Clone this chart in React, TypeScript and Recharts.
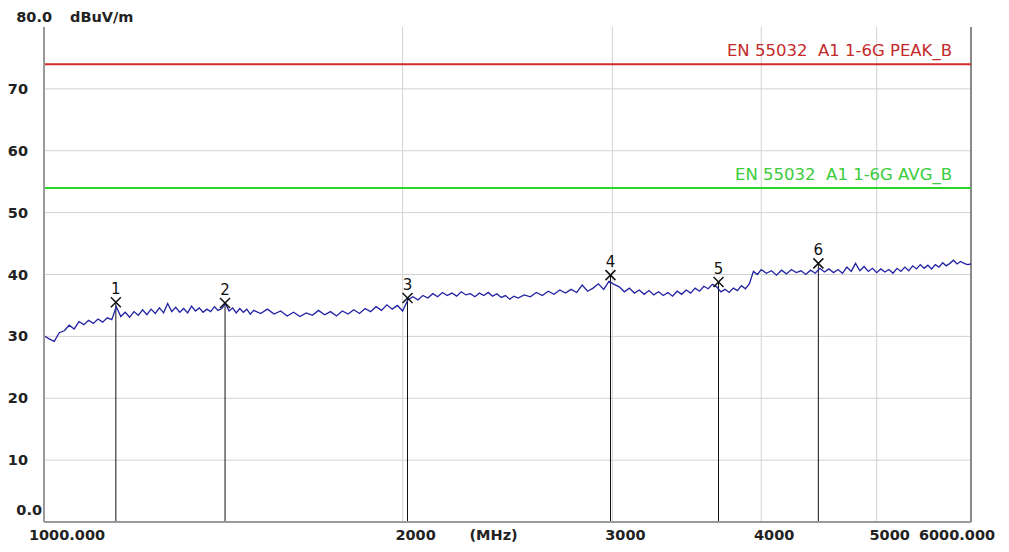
import {
  ComposedChart,
  Line,
  Scatter,
  XAxis,
  YAxis,
  ReferenceLine,
} from "recharts";

// measured trace, [MHz, dBuV/m]
const trace: [number, number][] = [
  [1000, 30.1], [1010, 29.6], [1020, 29.2], [1030, 30.6], [1040, 30.9], [1050, 31.8],
  [1060, 31.2], [1070, 32.4], [1080, 31.9], [1090, 32.6], [1100, 32.1], [1110, 32.8],
  [1120, 32.3], [1130, 33.0], [1140, 32.7], [1150, 34.8], [1160, 33.2], [1170, 33.9],
  [1180, 33.1], [1190, 34.0], [1200, 33.4], [1210, 34.3], [1220, 33.5], [1230, 34.4],
  [1240, 33.7], [1250, 34.6], [1260, 33.8], [1270, 35.3], [1280, 34.0], [1290, 34.7],
  [1300, 33.9], [1310, 34.5], [1320, 33.8], [1330, 34.9], [1340, 34.1], [1350, 34.6],
  [1360, 33.9], [1370, 34.4], [1380, 34.0], [1390, 34.8], [1400, 34.2], [1410, 34.5],
  [1420, 35.3], [1430, 34.1], [1440, 34.6], [1450, 33.8], [1460, 34.5], [1470, 33.9],
  [1480, 34.4], [1490, 33.6], [1500, 34.2],
  [1520, 33.7], [1540, 34.4], [1560, 33.6], [1580, 34.1], [1600, 33.3], [1620, 33.9],
  [1640, 33.2], [1660, 33.8], [1680, 33.4], [1700, 34.2], [1720, 33.5], [1740, 34.0],
  [1760, 33.3], [1780, 34.1], [1800, 33.6], [1820, 34.3], [1840, 33.7], [1860, 34.5],
  [1880, 34.0], [1900, 34.8], [1920, 34.2], [1940, 35.1], [1960, 34.4], [1980, 35.0],
  [2000, 34.1], [2020, 35.9], [2040, 36.4], [2060, 35.9], [2080, 36.6], [2100, 36.2],
  [2120, 36.9], [2140, 36.4], [2160, 37.1], [2180, 36.6], [2200, 37.0], [2220, 36.5],
  [2240, 37.2], [2260, 36.7], [2280, 36.9], [2300, 36.4], [2320, 37.0], [2340, 36.6],
  [2360, 37.1], [2380, 36.5], [2400, 36.9], [2420, 36.3], [2440, 36.6], [2460, 36.0],
  [2480, 36.5], [2500, 36.2],
  [2530, 36.7], [2560, 36.4], [2590, 37.1], [2620, 36.6], [2650, 37.3], [2680, 36.8],
  [2710, 37.5], [2740, 37.0], [2770, 37.6], [2800, 37.1], [2830, 38.3], [2860, 37.3],
  [2890, 37.8], [2920, 38.5], [2950, 37.6], [2980, 38.9], [3010, 38.4], [3040, 38.0],
  [3070, 37.2], [3100, 37.8], [3130, 37.0], [3160, 37.5], [3190, 36.8], [3220, 37.4],
  [3250, 36.7], [3280, 37.2], [3310, 36.6], [3340, 37.1], [3370, 36.5], [3400, 37.3],
  [3430, 36.8], [3460, 37.5], [3490, 37.0], [3520, 37.8], [3550, 37.3], [3580, 38.1],
  [3610, 37.7], [3640, 38.4], [3670, 38.0], [3700, 37.2], [3730, 37.6], [3760, 37.1],
  [3790, 37.8], [3820, 37.4], [3850, 38.2], [3880, 37.7], [3910, 38.5], [3940, 40.5],
  [3970, 40.0], [4000, 40.8],
  [4040, 40.2], [4080, 40.6], [4120, 39.9], [4160, 40.7], [4200, 40.1], [4240, 40.8],
  [4280, 40.3], [4320, 40.6], [4360, 40.0], [4400, 40.7], [4440, 40.2], [4480, 41.0],
  [4520, 40.4], [4560, 40.9], [4600, 40.3], [4640, 40.8], [4680, 40.2], [4720, 41.2],
  [4760, 40.5], [4800, 41.8], [4840, 40.6], [4880, 41.3], [4920, 40.5], [4960, 41.0],
  [5000, 40.3], [5040, 40.9], [5080, 40.4], [5120, 40.8], [5160, 40.2], [5200, 41.0],
  [5240, 40.5], [5280, 41.2], [5320, 40.6], [5360, 41.4], [5400, 40.9], [5440, 41.6],
  [5480, 41.0], [5520, 41.5], [5560, 40.9], [5600, 41.6], [5640, 41.2], [5680, 41.9],
  [5720, 41.4], [5760, 41.8], [5800, 42.3], [5840, 41.7], [5880, 42.1], [5920, 41.8],
  [5960, 41.6], [6000, 41.7],
];

const markerIds = [1, 2, 3, 4, 5, 6];
const markerFreqs = [1149, 1419, 2019, 2989, 3683, 4467];
const markerLevels = [35.5, 35.4, 36.2, 39.9, 38.8, 41.8];

const peakLimit = 74;
const avgLimit = 54;
const peakLabel = "EN 55032  A1 1-6G PEAK_B";
const avgLabel = "EN 55032  A1 1-6G AVG_B";

const xTicks = [1000, 2000, 3000, 4000, 5000, 6000];
const xTickLabels = ["1000.000", "2000", "3000", "4000", "5000", "6000.000"];
const xUnit = "(MHz)";
const xGrid = [2000, 3000, 4000, 5000];
const yTicks = [0, 10, 20, 30, 40, 50, 60, 70, 80];
const yGrid = [10, 20, 30, 40, 50, 60, 70];

const FONT = "'DejaVu Sans', Arial, sans-serif";

const traceRows = trace.map(([freq, level]) => ({ freq, level }));
const markerRows = markerIds.map((id, i) => ({ id, freq: markerFreqs[i], level: markerLevels[i] }));

function XTick(props: any) {
  const { x, payload } = props;
  const v = payload.value as number;
  const i = xTicks.indexOf(v);
  let dx = 13;
  if (v === 1000) dx = 23;
  if (v === 6000) dx = -14;
  return (
    <g>
      <text x={x + dx} y={540} textAnchor="middle" fontFamily={FONT} fontWeight="bold" fontSize={14.5} fill="#222">
        {xTickLabels[i]}
      </text>
      {v === 2000 && (
        <text x={x + 91} y={540} textAnchor="middle" fontFamily={FONT} fontWeight="bold" fontSize={14.5} fill="#222">
          {xUnit}
        </text>
      )}
    </g>
  );
}

function YTick(props: any) {
  const { y, payload } = props;
  const v = payload.value as number;
  if (v === 0) {
    return (
      <text x={42} y={y - 7} textAnchor="end" fontFamily={FONT} fontWeight="bold" fontSize={14.5} fill="#222">
        0.0
      </text>
    );
  }
  if (v === 80) {
    return (
      <g>
        <text x={52} y={y - 5} textAnchor="end" fontFamily={FONT} fontWeight="bold" fontSize={14.5} fill="#222">
          80.0
        </text>
        <text x={70} y={y - 5} fontFamily={FONT} fontWeight="bold" fontSize={14.5} fill="#222">
          dBuV/m
        </text>
      </g>
    );
  }
  return (
    <text x={28} y={y + 5} textAnchor="end" fontFamily={FONT} fontWeight="bold" fontSize={14.5} fill="#222">
      {v}
    </text>
  );
}

function MarkerShape(props: any) {
  const { cx, cy, payload } = props;
  const s = 5;
  return (
    <g>
      <line x1={cx - s} y1={cy - s} x2={cx + s} y2={cy + s} stroke="#111" strokeWidth={1.5} />
      <line x1={cx - s} y1={cy + s} x2={cx + s} y2={cy - s} stroke="#111" strokeWidth={1.5} />
      <text x={cx} y={cy - 8} textAnchor="middle" fontFamily={FONT} fontSize={15} fill="#111">
        {payload.id}
      </text>
    </g>
  );
}

function limitLabel(text: string, color: string) {
  return (props: any) => {
    const vb = props.viewBox;
    return (
      <text
        x={vb.x + vb.width - 19}
        y={vb.y - 8}
        textAnchor="end"
        fontFamily={FONT}
        fontSize={16.5}
        fill={color}
        style={{ whiteSpace: "pre" }}
      >
        {text}
      </text>
    );
  };
}

export default function App() {
  return (
    <div style={{ position: "absolute", left: 0, top: 0, width: 1009, height: 552, background: "#fff" }}>
      <ComposedChart width={1009} height={552} data={traceRows} margin={{ top: 27, right: 38, bottom: 0, left: 0 }}>
        <XAxis
          dataKey="freq"
          type="number"
          scale="log"
          domain={[1000, 6000]}
          ticks={xTicks}
          interval={0}
          height={30}
          axisLine={{ stroke: "#9a9a9a", strokeWidth: 2 }}
          tickLine={false}
          tick={<XTick />}
          allowDataOverflow
        />
        <YAxis
          type="number"
          domain={[0, 80]}
          ticks={yTicks}
          interval={0}
          width={44}
          axisLine={{ stroke: "#9a9a9a", strokeWidth: 2 }}
          tickLine={false}
          tick={<YTick />}
          allowDataOverflow
        />
        {yGrid.map((v) => (
          <ReferenceLine key={`gy${v}`} y={v} stroke="#d2d2d2" strokeWidth={1} />
        ))}
        {xGrid.map((v) => (
          <ReferenceLine key={`gx${v}`} x={v} stroke="#d2d2d2" strokeWidth={1} />
        ))}
        <ReferenceLine x={6000} stroke="#8a8a8a" strokeWidth={2} />
        <ReferenceLine y={peakLimit} stroke="#d42a2a" strokeWidth={2} label={limitLabel(peakLabel, "#c42a2a")} />
        <ReferenceLine y={avgLimit} stroke="#2ad42a" strokeWidth={2} label={limitLabel(avgLabel, "#3acc3a")} />
        {markerRows.map((m) => (
          <ReferenceLine
            key={`m${m.id}`}
            segment={[
              { x: m.freq, y: 0 },
              { x: m.freq, y: m.level },
            ]}
            stroke="#111"
            strokeWidth={1}
          />
        ))}
        <Line
          dataKey="level"
          type="linear"
          stroke="#2222a4"
          strokeWidth={1.3}
          dot={false}
          isAnimationActive={false}
        />
        <Scatter data={markerRows} dataKey="level" shape={<MarkerShape />} isAnimationActive={false} />
      </ComposedChart>
    </div>
  );
}
